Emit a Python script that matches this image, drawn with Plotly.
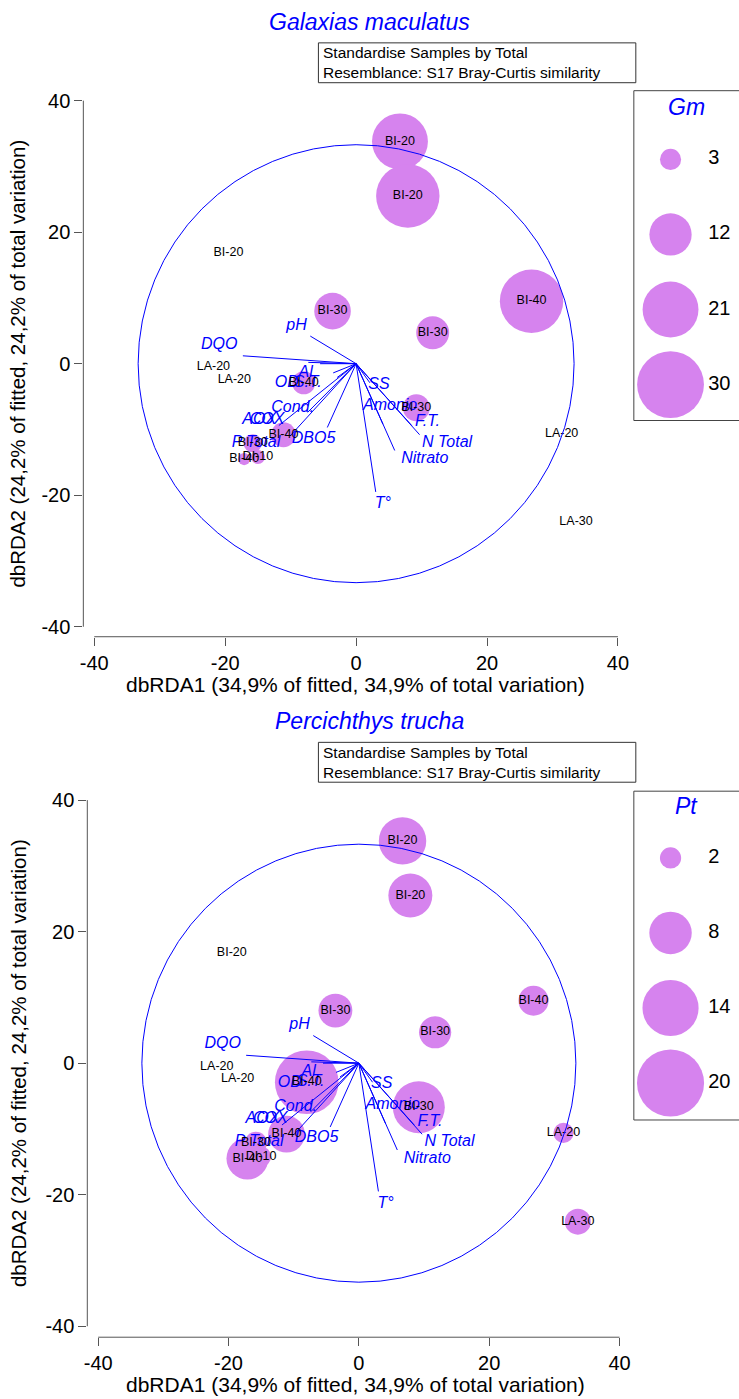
import plotly.graph_objects as go

W, H = 739, 1399

# ---------------- data ----------------
samples = ["BI-20", "BI-20", "BI-20", "BI-40", "BI-30", "BI-30", "LA-20", "LA-20",
           "BI-40", "BI-30", "BI-40", "BI-30", "BI-40", "DI-10", "LA-20", "LA-30"]
db1 = [6.7, 7.9, -19.5, 26.8, -3.6, 11.7, -21.8, -18.6,
       -8.0, 9.2, -11.1, -15.8, -17.1, -15.0, 31.4, 33.6]
db2 = [33.8, 25.5, 16.8, 9.5, 8.0, 4.7, -0.5, -2.4,
       -2.9, -6.7, -10.8, -12.1, -14.5, -14.2, -10.6, -24.1]
gm_vals = [21, 27, 0, 27, 9, 7.3, 0, 0, 3.6, 4.9, 4.2, 2.2, 1.0, 1.3, 0, 0]
pt_vals = [10, 8.6, 0, 4, 5.1, 4.6, 0, 0, 18, 12, 6, 2.2, 7.8, 1.8, 1.8, 3]

vec_names = ["pH", "DQO", "Al", "OD", "S.T.", "Cond.", "AOX", "COX", "P Total", "DBO5",
             "SS", "Amonio", "F.T.", "N Total", "Nitrato", "T°"]
vec_x = [-7.0, -17.3, -5.5, -7.3, -3.5, -7.4, -11.8, -2.9, -10.0, -4.4,
         2.1, 4.1, 8.5, 9.7, 5.9, 3.0]
vec_y = [4.2, 1.2, 0.0, 0.2, -1.4, -7.4, -9.4, -2.1, -10.9, -9.7,
         -2.9, -9.2, -9.4, -10.8, -13.2, -19.5]
vec_lab_x = [-9.1, -20.9, -7.7, -10.6, -7.4, -9.7, -14.8, -13.6, -15.3, -6.5,
             3.5, 5.2, 10.9, 13.9, 10.5, 4.1]
vec_lab_y = [5.8, 2.9, -1.4, -3.0, -2.9, -6.7, -8.5, -8.5, -12.0, -11.4,
             -3.2, -6.4, -8.9, -12.0, -14.5, -21.4]

circle_r = 33.3
axis_ticks = [-40, -20, 0, 20, 40]
axis_tick_text = ["-40", "-20", "0", "20", "40"]
gm_legend = [3, 12, 21, 30]
pt_legend = [2, 8, 14, 20]

# ---------------- style ----------------
BUBBLE = "rgb(214,131,238)"
BLUE = "#0000FF"
FONT = "Arial, 'Liberation Sans', sans-serif"
AXC = "#555555"


def px(x):
    return x / W


def py(y):
    return 1 - y / H


panels = [
    dict(title="Galaxias maculatus", vals=gm_vals, leg=gm_legend, legtitle="Gm", k=12.2,
         xdom=(81, 630), ydom=(90, 635), xr=(-41.67, 41.52), yr=(-41.52, 41.06),
         title_y=18, box=(318, 39, 638, 79), xtitle_y=683, ytitle_y=361,
         legbox=(636, 87, 418), leg_first=156, leg_step=75.3, legtitle_y=103),
    dict(title="Percichthys trucha", vals=pt_vals, leg=pt_legend, legtitle="Pt", k=15.0,
         xdom=(85, 630), ydom=(790, 1338), xr=(-41.67, 41.28), yr=(-41.67, 41.36),
         title_y=720, box=(318, 741, 638, 781), xtitle_y=1385, ytitle_y=1063,
         legbox=(636, 790, 1120), leg_first=857, leg_step=75.3, legtitle_y=805),
]

fig = go.Figure()
shapes = []
annotations = []
layout_axes = {}

for i, p in enumerate(panels):
    n = 2 * i + 1      # main axes index
    m = 2 * i + 2      # legend axes index
    xa, ya = f"x{'' if n == 1 else n}", f"y{'' if n == 1 else n}"
    lxa, lya = f"x{m}", f"y{m}"

    # bubbles
    fig.add_trace(go.Scatter(
        x=db1, y=db2, mode="markers", xaxis=xa, yaxis=ya, cliponaxis=False,
        marker=dict(size=p["vals"], sizemode="area", sizeref=2 / p["k"] ** 2,
                    color=BUBBLE, opacity=1, line=dict(width=0)),
        hoverinfo="skip", showlegend=False))

    # vectors
    vx, vy = [], []
    for a, b in zip(vec_x, vec_y):
        vx += [0, a, None]
        vy += [0, b, None]
    fig.add_trace(go.Scatter(x=vx, y=vy, mode="lines", xaxis=xa, yaxis=ya,
                             line=dict(color=BLUE, width=1), hoverinfo="skip",
                             showlegend=False, cliponaxis=False))
    fig.add_trace(go.Scatter(x=vec_lab_x, y=vec_lab_y, text=vec_names, mode="text",
                             xaxis=xa, yaxis=ya, cliponaxis=False,
                             textfont=dict(family=FONT, size=16, color=BLUE, style="italic"),
                             hoverinfo="skip", showlegend=False))
    # sample labels
    fig.add_trace(go.Scatter(x=db1, y=db2, text=samples, mode="text",
                             xaxis=xa, yaxis=ya, cliponaxis=False,
                             textfont=dict(family=FONT, size=12.5, color="black"),
                             hoverinfo="skip", showlegend=False))

    # legend bubbles
    idx = list(range(len(p["leg"])))
    fig.add_trace(go.Scatter(x=[37] * len(idx), y=idx, mode="markers",
                             xaxis=lxa, yaxis=lya, cliponaxis=False,
                             marker=dict(size=p["leg"], sizemode="area",
                                         sizeref=2 / p["k"] ** 2, color=BUBBLE,
                                         opacity=1, line=dict(width=0)),
                             hoverinfo="skip", showlegend=False))
    fig.add_trace(go.Scatter(x=[75] * len(idx), y=idx, text=[str(v) for v in p["leg"]],
                             mode="text", textposition="middle right",
                             xaxis=lxa, yaxis=lya, cliponaxis=False,
                             textfont=dict(family=FONT, size=20, color="black"),
                             hoverinfo="skip", showlegend=False))

    axis_common = dict(showgrid=False, zeroline=False, showline=False,
                       tickvals=axis_ticks, ticktext=axis_tick_text,
                       ticks="outside", ticklen=8, tickwidth=1,
                       tickcolor=AXC, tickfont=dict(family=FONT, size=20, color="black"))
    layout_axes[f"xaxis{'' if n == 1 else n}"] = dict(
        domain=[px(p["xdom"][0]), px(p["xdom"][1])], range=list(p["xr"]),
        anchor=ya, **axis_common)
    layout_axes[f"yaxis{'' if n == 1 else n}"] = dict(
        domain=[py(p["ydom"][1]), py(p["ydom"][0])], range=list(p["yr"]),
        anchor=xa, **axis_common)

    lb = p["legbox"]
    top_idx = -(p["leg_first"] - lb[1]) / p["leg_step"]
    bot_idx = (lb[2] - p["leg_first"]) / p["leg_step"]
    layout_axes[f"xaxis{m}"] = dict(domain=[px(lb[0]), 1], range=[0, W - lb[0]],
                                    visible=False, anchor=lya)
    layout_axes[f"yaxis{m}"] = dict(domain=[py(lb[2]), py(lb[1])], range=[bot_idx, top_idx],
                                    visible=False, anchor=lxa)

    # axis lines, offset like the original
    yd = f"{ya} domain"
    xd = f"{xa} domain"
    shapes.append(dict(type="line", xref=xa, yref=yd, x0=-40, x1=40, y0=0, y1=0,
                       line=dict(color=AXC, width=1)))
    shapes.append(dict(type="line", xref=xd, yref=ya, x0=0, x1=0, y0=-40, y1=40,
                       line=dict(color=AXC, width=1)))
    # correlation circle
    shapes.append(dict(type="circle", xref=xa, yref=ya, x0=-circle_r, x1=circle_r,
                       y0=-circle_r, y1=circle_r, line=dict(color=BLUE, width=1)))
    # legend box
    shapes.append(dict(type="rect", xref="paper", yref="paper", x0=px(lb[0]), x1=px(W + 5),
                       y0=py(lb[2]), y1=py(lb[1]), line=dict(color="#444444", width=1)))
    # info box
    bx = p["box"]
    shapes.append(dict(type="rect", xref="paper", yref="paper", x0=px(bx[0]), x1=px(bx[2]),
                       y0=py(bx[3]), y1=py(bx[1]), line=dict(color="#333333", width=1)))

    annotations += [
        dict(text=f"<i>{p['title']}</i>", x=px(370), y=py(p["title_y"]), xref="paper",
             yref="paper", showarrow=False, xanchor="center", yanchor="middle",
             font=dict(family=FONT, size=23, color=BLUE)),
        dict(text="Standardise Samples by Total<br>Resemblance: S17 Bray-Curtis similarity",
             x=px(bx[0] + 3), y=py((bx[1] + bx[3]) / 2), xref="paper", yref="paper",
             showarrow=False, xanchor="left", yanchor="middle", align="left",
             font=dict(family=FONT, size=15.5, color="black")),
        dict(text="dbRDA1 (34,9% of fitted, 34,9% of total variation)", x=px(355),
             y=py(p["xtitle_y"]), xref="paper", yref="paper", showarrow=False,
             xanchor="center", yanchor="middle", font=dict(family=FONT, size=21, color="black")),
        dict(text="dbRDA2 (24,2% of fitted, 24,2% of total variation)", x=px(15),
             y=py(p["ytitle_y"]), xref="paper", yref="paper", showarrow=False, textangle=-90,
             xanchor="center", yanchor="middle", font=dict(family=FONT, size=20.5, color="black")),
        dict(text=f"<i>{p['legtitle']}</i>", x=px(689), y=py(p["legtitle_y"]), xref="paper",
             yref="paper", showarrow=False, xanchor="center", yanchor="middle",
             font=dict(family=FONT, size=23, color=BLUE)),
    ]

fig.update_layout(
    width=W, height=H, margin=dict(l=0, r=0, t=0, b=0),
    paper_bgcolor="white", plot_bgcolor="white", showlegend=False,
    font=dict(family=FONT), shapes=shapes, annotations=annotations, **layout_axes)

fig.write_html("out.html", config={"displayModeBar": False},
               post_script="document.body.style.margin='0px';document.body.style.overflow='hidden';")
